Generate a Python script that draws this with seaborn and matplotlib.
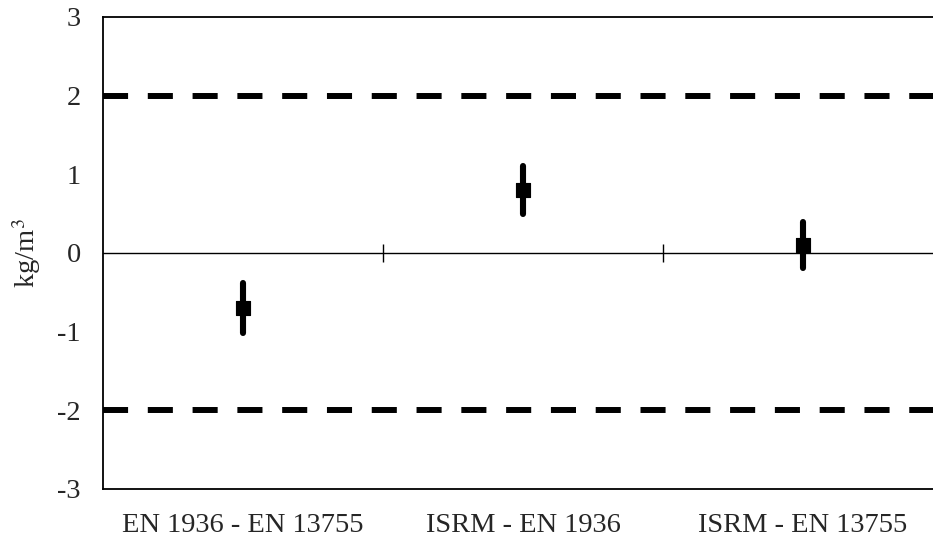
import matplotlib
matplotlib.use('Agg')
import matplotlib.pyplot as plt
import seaborn as sns
import pandas as pd

# 数据
categories = ['EN 1936 - EN 13755', 'ISRM - EN 1936', 'ISRM - EN 13755']
diffs = [-0.70, 0.80, 0.10]
half_err = [0.32, 0.30, 0.29]
limit = 2.0
yticks = [-3, -2, -1, 0, 1, 2, 3]

sns.set_style('white')
plt.rcParams['font.family'] = ['Liberation Serif', 'DejaVu Serif']
plt.rcParams['mathtext.fontset'] = 'stix'
plt.rcParams['axes.unicode_minus'] = False

fig = plt.figure(figsize=(9.33, 5.47), dpi=100)
ax = fig.add_axes([103 / 933, 1 - 489 / 547, 840 / 933, 472 / 547])

df = pd.DataFrame({'pos': range(len(categories)), 'diff': diffs})

# 误差棒
eb = ax.errorbar(df['pos'], df['diff'], yerr=half_err, fmt='none',
                 ecolor='black', elinewidth=4.4, capsize=0, zorder=3)
for lc in eb[2]:
    lc.set_capstyle('round')
sns.scatterplot(data=df, x='pos', y='diff', marker='s', s=105,
                color='black', edgecolor='black', ax=ax, zorder=4)

# 限值线
ax.axhline(limit, color='black', lw=4.3, dashes=(4.2, 3.3), zorder=2)
ax.axhline(-limit, color='black', lw=4.3, dashes=(4.2, 3.3), zorder=2)
ax.axhline(0, color='black', lw=1.0, zorder=2)
ax.plot([0.5, 1.5], [0, 0], ls='none', marker='|', ms=13, mew=1.0, color='black')

ax.set_xlim(-0.5, 2.5)
ax.set_ylim(-3, 3)
ax.set_yticks(yticks)
ax.set_yticklabels([str(v) for v in yticks])
ax.set_xticks(range(len(categories)))
ax.set_xticklabels(categories)
ax.tick_params(axis='x', length=0, pad=17, labelsize=20.5)
ax.tick_params(axis='y', length=0, pad=16, labelsize=20.5)
ax.set_xlabel('')
ax.set_ylabel('kg/m$^3$', fontsize=20.5, labelpad=10)

for s in ax.spines.values():
    s.set_color('black')
    s.set_linewidth(1.3)
ax.spines['right'].set_visible(False)

fig.savefig('out.png', dpi=100)
